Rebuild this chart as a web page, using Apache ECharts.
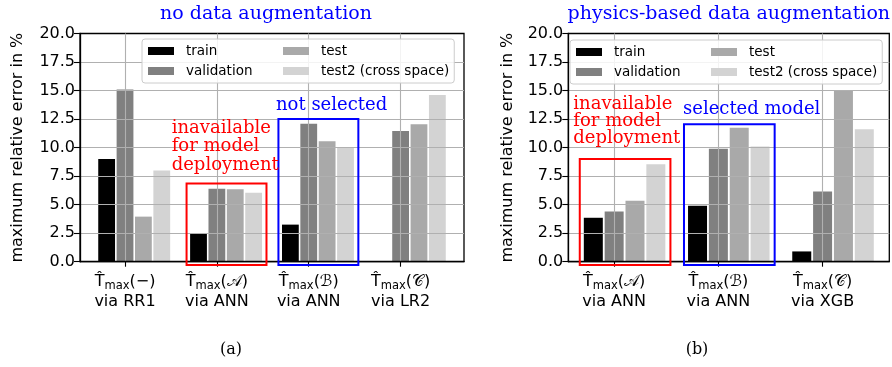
<!DOCTYPE html>
<html><head><meta charset="utf-8">
<script src="https://cdn.jsdelivr.net/npm/echarts@6/dist/echarts.min.js"></script>
<style>html,body{margin:0;padding:0;background:#fff}#c{width:892px;height:367px}</style>
</head><body><div id="c"></div>
<script>
// ---------- data ----------
const seriesNames = ['train', 'validation', 'test', 'test2 (cross space)'];

const leftModels  = ['\u2212', '\uD835\uDC9C', '\u212C', '\uD835\uDC9E'];
const leftMethods = ['RR1', 'ANN', 'ANN', 'LR2'];
const leftTrain      = [9.0, 2.45, 3.25, 0];
const leftValidation = [15.1, 6.4, 12.1, 11.45];
const leftTest       = [3.95, 6.35, 10.55, 12.05];
const leftTest2      = [8.0, 6.05, 10.0, 14.6];

const rightModels  = ['\uD835\uDC9C', '\u212C', '\uD835\uDC9E'];
const rightMethods = ['ANN', 'ANN', 'XGB'];
const rightTrain      = [3.85, 4.9, 0.9];
const rightValidation = [4.4, 9.9, 6.15];
const rightTest       = [5.35, 11.75, 15.05];
const rightTest2      = [8.55, 10.1, 11.6];

const yMin = 0, yMax = 20, yStep = 2.5;

// annotation boxes: [xFrom, yFrom, xTo, yTo] in data units
const leftBoxRed   = [0.67, -0.3, 1.54, 6.85];
const leftBoxBlue  = [1.67, -0.3, 2.54, 12.5];
const rightBoxRed  = [-0.33, -0.3, 0.54, 9.0];
const rightBoxBlue = [0.67, -0.3, 1.54, 12.05];

// ---------- styling ----------
const barColors = ['#000000', '#808080', '#a9a9a9', '#d3d3d3'];
const groupOffsets = [-0.2, 0, 0.2, 0.4];
const SANS = 'DejaVu Sans';

function xLabelFormatter(models, methods) {
  return function (v) {
    const i = Math.round(v);
    return '{t|T\u0302}{s|max}{t|(' + models[i] + ')}\n{t|via ' + methods[i] + '}';
  };
}
const richLabel = {
  t: {fontFamily: SANS, fontSize: 16, color: '#000', lineHeight: 20},
  s: {fontFamily: SANS, fontSize: 11.5, color: '#000', lineHeight: 12, verticalAlign: 'bottom'}
};

function makeX(gridIndex, n, models, methods, min, max) {
  const vals = [];
  for (let i = 0; i < n; i++) vals.push(i);
  return {
    type: 'value', gridIndex, min, max, z: 3,
    axisLine: {show: true, onZero: false, lineStyle: {color: '#000', width: 1.3}},
    axisTick: {show: true, customValues: vals, length: 5, lineStyle: {color: '#000', width: 1.1}},
    axisLabel: {show: true, customValues: vals, margin: 10, formatter: xLabelFormatter(models, methods), rich: richLabel, align: 'center'},
    splitLine: {show: true, lineStyle: {color: '#b0b0b0', width: 1.1}}
  };
}
function makeY(gridIndex) {
  return {
    type: 'value', gridIndex, min: yMin, max: yMax, interval: yStep, z: 3,
    axisLine: {show: true, onZero: false, lineStyle: {color: '#000', width: 1.3}},
    axisTick: {show: true, length: 6, lineStyle: {color: '#000', width: 1.1}},
    axisLabel: {margin: 5, color: '#000', fontFamily: SANS, fontSize: 16, formatter: v => v.toFixed(1)},
    splitLine: {show: true, showMinLine: false, showMaxLine: false, lineStyle: {color: '#b0b0b0', width: 1.1}}
  };
}
function barSeries(gridIdx, k, values, barWidth) {
  return {
    type: 'bar', name: seriesNames[k], xAxisIndex: gridIdx, yAxisIndex: gridIdx,
    barWidth: barWidth, barGap: '-100%', z: 1,
    itemStyle: {color: barColors[k]},
    data: values.map((v, i) => [i + groupOffsets[k], v])
  };
}
function boxSeries(gridIdx, boxes, colors) {
  return {
    type: 'custom', xAxisIndex: gridIdx, yAxisIndex: gridIdx, z: 6, clip: false, silent: true,
    encode: {x: [0, 2], y: [1, 3]},
    data: boxes,
    renderItem: function (params, api) {
      const p0 = api.coord([api.value(0), api.value(3)]);
      const p1 = api.coord([api.value(2), api.value(1)]);
      return {type: 'rect', shape: {x: p0[0], y: p0[1], width: p1[0] - p0[0], height: p1[1] - p0[1]},
              style: {fill: 'none', stroke: colors[params.dataIndex], lineWidth: 2}};
    }
  };
}
function legendFor(left, top) {
  return {
    left, top, width: 310, orient: 'horizontal', itemGap: 4, itemWidth: 26, itemHeight: 8,
    icon: 'rect', padding: [4, 5, 4, 6],
    backgroundColor: 'rgba(255,255,255,0.85)', borderColor: '#cccccc', borderWidth: 1, borderRadius: 3,
    data: [seriesNames[0], seriesNames[2], seriesNames[1], seriesNames[3]],
    textStyle: {fontFamily: SANS, fontSize: 13.5, color: '#000', width: 93, lineHeight: 16, padding: [0, 0, 0, 7]},
    selectedMode: false, z: 5
  };
}

const leftGrid  = {left: 80, top: 33.5, width: 384, height: 228.2};
const rightGrid = {left: 568.3, top: 33.5, width: 321, height: 228.2};

const option = {
  animation: false,
  backgroundColor: '#fff',
  grid: [
    Object.assign({show: true, borderColor: '#000', borderWidth: 1.3, backgroundColor: 'transparent'}, leftGrid),
    Object.assign({show: true, borderColor: '#000', borderWidth: 1.3, backgroundColor: 'transparent'}, rightGrid)
  ],
  xAxis: [
    makeX(0, leftModels.length, leftModels, leftMethods, -0.49, 3.69),
    makeX(1, rightModels.length, rightModels, rightMethods, -0.44, 2.64)
  ],
  yAxis: [makeY(0), makeY(1)],
  legend: [legendFor(142, 39), legendFor(570, 40)],
  series: [
    barSeries(0, 0, leftTrain, 16.8), barSeries(0, 1, leftValidation, 16.8),
    barSeries(0, 2, leftTest, 16.8), barSeries(0, 3, leftTest2, 16.8),
    barSeries(1, 0, rightTrain, 19), barSeries(1, 1, rightValidation, 19),
    barSeries(1, 2, rightTest, 19), barSeries(1, 3, rightTest2, 19),
    boxSeries(0, [leftBoxRed, leftBoxBlue], ['#ff0000', '#0000ff']),
    boxSeries(1, [rightBoxRed, rightBoxBlue], ['#ff0000', '#0000ff'])
  ],
  graphic: [
    {type: 'text', x: 266, y: 14, z: 10, style: {text: 'no data augmentation', fill: '#0000ff', font: '19px "DejaVu Serif"', textAlign: 'center', textVerticalAlign: 'middle'}},
    {type: 'text', x: 728.8, y: 14, z: 10, style: {text: 'physics-based data augmentation', fill: '#0000ff', font: '19px "DejaVu Serif"', textAlign: 'center', textVerticalAlign: 'middle'}},
    {type: 'text', x: 18.3, y: 147.6, rotation: Math.PI / 2, z: 10, style: {text: 'maximum relative error in %', fill: '#000', font: '16px "DejaVu Sans"', textAlign: 'center', textVerticalAlign: 'middle'}},
    {type: 'text', x: 508.3, y: 147.6, rotation: Math.PI / 2, z: 10, style: {text: 'maximum relative error in %', fill: '#000', font: '16px "DejaVu Sans"', textAlign: 'center', textVerticalAlign: 'middle'}},
    {type: 'text', x: 171.7, y: 119, z: 10, style: {text: 'inavailable\nfor model\ndeployment', fill: '#ff0000', font: '18px "DejaVu Serif"', lineHeight: 18.5, textAlign: 'left', textVerticalAlign: 'top'}},
    {type: 'text', x: 276, y: 96, z: 10, style: {text: 'not selected', fill: '#0000ff', font: '18px "DejaVu Serif"', lineHeight: 18, textAlign: 'left', textVerticalAlign: 'top'}},
    {type: 'text', x: 573.3, y: 95.5, z: 10, style: {text: 'inavailable\nfor model\ndeployment', fill: '#ff0000', font: '18px "DejaVu Serif"', lineHeight: 17, textAlign: 'left', textVerticalAlign: 'top'}},
    {type: 'text', x: 683, y: 100, z: 10, style: {text: 'selected model', fill: '#0000ff', font: '18px "DejaVu Serif"', lineHeight: 18, textAlign: 'left', textVerticalAlign: 'top'}},
    {type: 'text', x: 231, y: 350, z: 10, style: {text: '(a)', fill: '#000', font: '16px "DejaVu Serif"', textAlign: 'center', textVerticalAlign: 'middle'}},
    {type: 'text', x: 697, y: 350, z: 10, style: {text: '(b)', fill: '#000', font: '16px "DejaVu Serif"', textAlign: 'center', textVerticalAlign: 'middle'}}
  ]
};
const chart = echarts.init(document.getElementById('c'), null, {renderer: 'canvas'});
chart.setOption(option);
</script></body></html>
